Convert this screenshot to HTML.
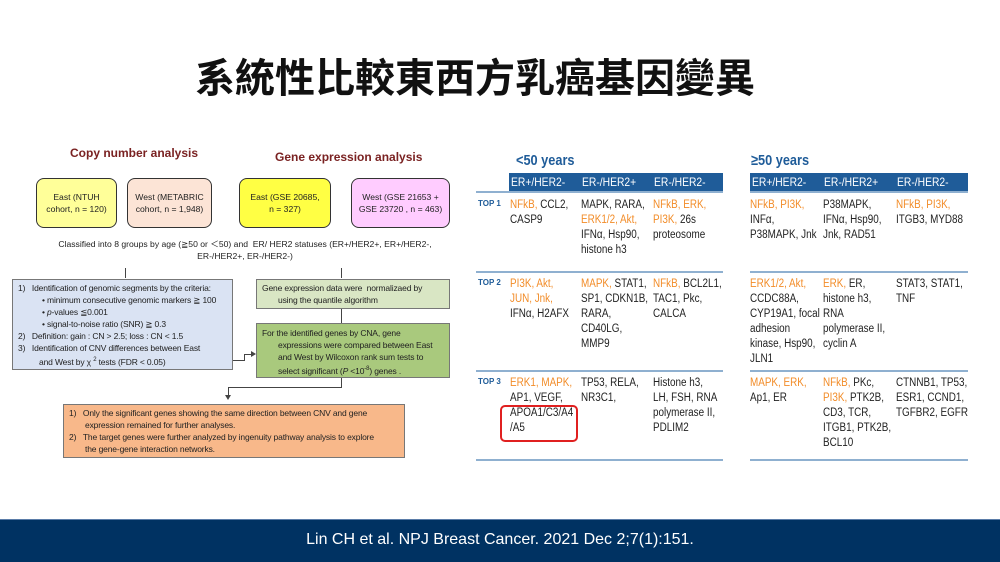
<!DOCTYPE html>
<html><head><meta charset="utf-8">
<style>
*{margin:0;padding:0;box-sizing:border-box}
body{width:1000px;height:562px;position:relative;background:#fff;font-family:"Liberation Sans",sans-serif;overflow:hidden}
.a{position:absolute}
.t{font-size:8.6px;color:#222;line-height:12px}
.box{position:absolute;border:1.5px solid #333;border-radius:8px;font-size:8.6px;text-align:center;display:flex;align-items:center;justify-content:center;line-height:12px;color:#222;white-space:nowrap}
.rect{position:absolute;border:1px solid #777;font-size:8.5px;line-height:12px;color:#222;white-space:nowrap;letter-spacing:-0.15px}
.ln{position:absolute;background:#444}
.tb{font-size:11.5px;line-height:15px;color:#222;position:absolute;white-space:nowrap;transform:scaleX(.86);transform-origin:left top}
.o{color:#f28c28}
.hd{position:absolute;background:#1f5c99;height:19px;top:173px}
.hd span{position:absolute;color:#fff;font-size:12px;top:2px;transform:scaleX(.86);transform-origin:left top;white-space:nowrap}
.hl{position:absolute;height:2px;background:#8fb0d0}
.top{position:absolute;font-size:8px;font-weight:bold;color:#1f5c99;left:478px}
</style></head><body>
<div class="a" style="left:0;top:56px;width:950px;text-align:center;font-family:'Liberation Sans','Noto Sans CJK TC',sans-serif;font-size:40px;font-weight:bold;color:#111;line-height:46px">系統性比較東西方乳癌基因變異</div>

<div class="a" style="left:70px;top:146px;font-size:12px;font-weight:bold;color:#7a2222">Copy number analysis</div>
<div class="a" style="left:275px;top:150px;font-size:12px;font-weight:bold;color:#7a2222">Gene expression analysis</div>

<div class="box" style="left:36px;top:178px;width:81px;height:50px;background:#ffff99">East (NTUH<br>cohort, n = 120)</div>
<div class="box" style="left:127px;top:178px;width:85px;height:50px;background:#fce4d6">West (METABRIC<br>cohort, n = 1,948)</div>
<div class="box" style="left:239px;top:178px;width:92px;height:50px;background:#ffff44">East (GSE 20685,<br>n = 327)</div>
<div class="box" style="left:351px;top:178px;width:99px;height:50px;background:#ffccff">West (GSE 21653 +<br>GSE 23720 , n = 463)</div>

<div class="a t" style="left:30px;top:238px;width:430px;text-align:center">Classified into 8 groups by age (≧50 or ＜50) and &nbsp;ER/ HER2 statuses (ER+/HER2+, ER+/HER2-,<br>ER-/HER2+, ER-/HER2-)</div>

<div class="ln" style="left:125px;top:268px;width:1px;height:10px"></div>
<div class="ln" style="left:341px;top:268px;width:1px;height:10px"></div>

<div class="rect" style="left:12px;top:279px;width:221px;height:91px;background:#dae3f3;padding:2px 5px;line-height:12px">
<div>1)&nbsp;&nbsp;&nbsp;Identification of genomic segments by the criteria:</div>
<div style="padding-left:24px">• minimum consecutive genomic markers ≧ 100</div>
<div style="padding-left:24px">• <i>p</i>-values ≦0.001</div>
<div style="padding-left:24px">• signal-to-noise ratio (SNR) ≧ 0.3</div>
<div>2)&nbsp;&nbsp;&nbsp;Definition: gain : CN &gt; 2.5; loss : CN &lt; 1.5</div>
<div>3)&nbsp;&nbsp;&nbsp;Identification of CNV differences between East</div>
<div style="padding-left:21px">and West by χ <sup style="font-size:6px">2</sup> tests (FDR &lt; 0.05)</div>
</div>
<div class="rect" style="left:256px;top:279px;width:194px;height:30px;background:#d9e6c4;padding:2px 5px">Gene expression data were &nbsp;normalizaed by<br><span style="padding-left:16px">using the quantile algorithm</span></div>
<div class="ln" style="left:341px;top:309px;width:1px;height:14px"></div>
<div class="rect" style="left:256px;top:323px;width:194px;height:55px;background:#a9c97d;padding:3px 5px">For the identified genes by CNA, gene<br><span style="padding-left:16px">expressions were compared between East</span><br><span style="padding-left:16px">and West by Wilcoxon rank sum tests to</span><br><span style="padding-left:16px">select significant (<i>P</i> &lt;10<sup style="font-size:6px">-8</sup>) genes .</span></div>
<div class="ln" style="left:233px;top:360px;width:12px;height:1px"></div>
<div class="ln" style="left:244px;top:354px;width:1px;height:7px"></div>
<div class="ln" style="left:244px;top:354px;width:10px;height:1px"></div>
<div class="a" style="left:251px;top:351px;width:0;height:0;border-left:5px solid #444;border-top:3px solid transparent;border-bottom:3px solid transparent"></div>
<div class="ln" style="left:341px;top:378px;width:1px;height:10px"></div>
<div class="ln" style="left:228px;top:387px;width:114px;height:1px"></div>
<div class="ln" style="left:228px;top:387px;width:1px;height:10px"></div>
<div class="a" style="left:225px;top:395px;width:0;height:0;border-top:5px solid #444;border-left:3px solid transparent;border-right:3px solid transparent"></div>
<div class="rect" style="left:63px;top:404px;width:342px;height:54px;background:#f8b88a;padding:2px 5px">
<div>1)&nbsp;&nbsp;&nbsp;Only the significant genes showing the same direction between CNV and gene</div>
<div style="padding-left:16px">expression remained for further analyses.</div>
<div>2)&nbsp;&nbsp;&nbsp;The target genes were further analyzed by ingenuity pathway analysis to explore</div>
<div style="padding-left:16px">the gene-gene interaction networks.</div>
</div>

<!-- table -->
<div class="a" style="left:516px;top:152px;font-size:15px;font-weight:bold;color:#1f5c99;transform:scaleX(.85);transform-origin:left top">&lt;50 years</div>
<div class="a" style="left:751px;top:152px;font-size:15px;font-weight:bold;color:#1f5c99;transform:scaleX(.85);transform-origin:left top">≥50 years</div>
<div class="hd" style="left:509px;width:214px"><span style="left:2px">ER+/HER2-</span><span style="left:73px">ER-/HER2+</span><span style="left:145px">ER-/HER2-</span></div>
<div class="hd" style="left:750px;width:218px"><span style="left:2px">ER+/HER2-</span><span style="left:74px">ER-/HER2+</span><span style="left:147px">ER-/HER2-</span></div>
<div class="hl" style="left:476px;top:191px;width:247px"></div>
<div class="hl" style="left:750px;top:191px;width:218px"></div>
<div class="hl" style="left:476px;top:271px;width:247px"></div>
<div class="hl" style="left:750px;top:271px;width:218px"></div>
<div class="hl" style="left:476px;top:370px;width:247px"></div>
<div class="hl" style="left:750px;top:370px;width:218px"></div>
<div class="hl" style="left:476px;top:459px;width:247px"></div>
<div class="hl" style="left:750px;top:459px;width:218px"></div>

<div class="top" style="top:199px">TOP 1</div>
<div class="top" style="top:278px">TOP 2</div>
<div class="top" style="top:377px">TOP 3</div>

<div class="tb" style="left:510px;top:198px"><span class="o">NFkB,</span> CCL2,<br>CASP9</div>
<div class="tb" style="left:581px;top:198px">MAPK, RARA,<br><span class="o">ERK1/2, Akt,</span><br>IFNα, Hsp90,<br>histone h3</div>
<div class="tb" style="left:653px;top:198px"><span class="o">NFkB, ERK,<br>PI3K,</span> 26s<br>proteosome</div>
<div class="tb" style="left:750px;top:198px"><span class="o">NFkB, PI3K,</span><br>INFα,<br>P38MAPK, Jnk</div>
<div class="tb" style="left:823px;top:198px">P38MAPK,<br>IFNα, Hsp90,<br>Jnk, RAD51</div>
<div class="tb" style="left:896px;top:198px"><span class="o">NFkB, PI3K,</span><br>ITGB3, MYD88</div>

<div class="tb" style="left:510px;top:277px"><span class="o">PI3K, Akt,<br>JUN, Jnk,</span><br>IFNα, H2AFX</div>
<div class="tb" style="left:581px;top:277px"><span class="o">MAPK,</span> STAT1,<br>SP1, CDKN1B,<br>RARA,<br>CD40LG,<br>MMP9</div>
<div class="tb" style="left:653px;top:277px"><span class="o">NFkB,</span> BCL2L1,<br>TAC1, Pkc,<br>CALCA</div>
<div class="tb" style="left:750px;top:277px"><span class="o">ERK1/2, Akt,</span><br>CCDC88A,<br>CYP19A1, focal<br>adhesion<br>kinase, Hsp90,<br>JLN1</div>
<div class="tb" style="left:823px;top:277px"><span class="o">ERK,</span> ER,<br>histone h3,<br>RNA<br>polymerase II,<br>cyclin A</div>
<div class="tb" style="left:896px;top:277px">STAT3, STAT1,<br>TNF</div>

<div class="tb" style="left:510px;top:376px"><span class="o">ERK1, MAPK,</span><br>AP1, VEGF,<br>APOA1/C3/A4<br>/A5</div>
<div class="tb" style="left:581px;top:376px">TP53, RELA,<br>NR3C1,</div>
<div class="tb" style="left:653px;top:376px">Histone h3,<br>LH, FSH, RNA<br>polymerase II,<br>PDLIM2</div>
<div class="tb" style="left:750px;top:376px"><span class="o">MAPK, ERK,</span><br>Ap1, ER</div>
<div class="tb" style="left:823px;top:376px"><span class="o">NFkB,</span> PKc,<br><span class="o">PI3K,</span> PTK2B,<br>CD3, TCR,<br>ITGB1, PTK2B,<br>BCL10</div>
<div class="tb" style="left:896px;top:376px">CTNNB1, TP53,<br>ESR1, CCND1,<br>TGFBR2, EGFR</div>
<div class="a" style="left:500px;top:405px;width:78px;height:37px;border:2.5px solid #e02020;border-radius:5px"></div>

<div class="a" style="left:0;top:519px;width:1000px;height:43px;background:#003262;border-top:1px solid #5a7ca8"></div>
<div class="a" style="left:0;top:531px;width:1000px;text-align:center;color:#fff;font-size:16px">Lin CH et al. NPJ Breast Cancer. 2021 Dec 2;7(1):151.</div>
</body></html>
